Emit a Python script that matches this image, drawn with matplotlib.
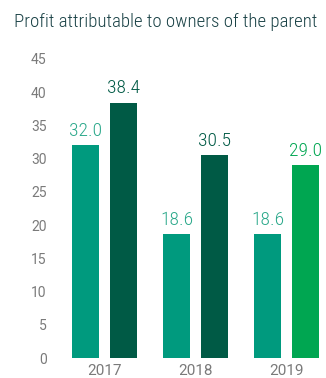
import matplotlib
matplotlib.use("Agg")
import matplotlib.pyplot as plt
import numpy as np

years = ["2017", "2018", "2019"]
first_vals = [32.0, 18.6, 18.6]
second_vals = [38.4, 30.5, 29.0]
first_colors = ["#009A7E", "#009A7E", "#009A7E"]
second_colors = ["#005A45", "#005A45", "#00A651"]
first_label_colors = ["#2AA88A", "#2AA88A", "#2AA88A"]
second_label_colors = ["#005A45", "#005A45", "#00A651"]
title = "Profit attributable to owners of the parent"

# condensed face if present, plain Roboto otherwise
narrow = ["Roboto Condensed", "Liberation Sans Narrow", "Roboto", "DejaVu Sans"]
plain = ["Roboto", "DejaVu Sans"]

W, H = 326, 378
fig = plt.figure(figsize=(W / 100, H / 100), dpi=100)

# axes placed in pixel terms: y=0 at 358px, y=45 at 59px
ax_left, ax_right = 55, 326
y0, y45 = 358, 59
ax = fig.add_axes([ax_left / W, (H - y0) / H, (ax_right - ax_left) / W, (y0 - y45) / H])

group_px = 91.0
center0 = 104.5
x = np.arange(len(years))
bw = 27 / group_px
off = 19 / group_px

b1 = ax.bar(x - off, first_vals, bw, color=first_colors)
b2 = ax.bar(x + off, second_vals, bw, color=second_colors)

for bars, vals, cols in ((b1, first_vals, first_label_colors), (b2, second_vals, second_label_colors)):
    for r, v, c in zip(bars, vals, cols):
        ax.annotate(f"{v:.1f}", (r.get_x() + r.get_width() / 2, v), xytext=(0, 4),
                    textcoords="offset points", ha="center", va="bottom",
                    fontsize=14, color=c, family=narrow, weight="light", clip_on=False)

ax.set_xlim((ax_left - center0) / group_px, (ax_right - center0) / group_px)
ax.set_ylim(0, 45)
ax.set_yticks(range(0, 46, 5))
ax.set_xticks(x)
ax.set_xticklabels(years)
ax.tick_params(axis="both", length=0, colors="#7a7a7a")
ax.tick_params(axis="y", pad=6, labelsize=10)
ax.tick_params(axis="x", pad=4, labelsize=11)
for lab in ax.get_xticklabels() + ax.get_yticklabels():
    lab.set_family(plain)
for s in ax.spines.values():
    s.set_visible(False)

fig.text(14 / W, 1 - 22 / H, title, ha="left", va="center", fontsize=13.6,
         color="#1A4246", family=narrow, weight="light")

fig.savefig("out.png", dpi=100)
